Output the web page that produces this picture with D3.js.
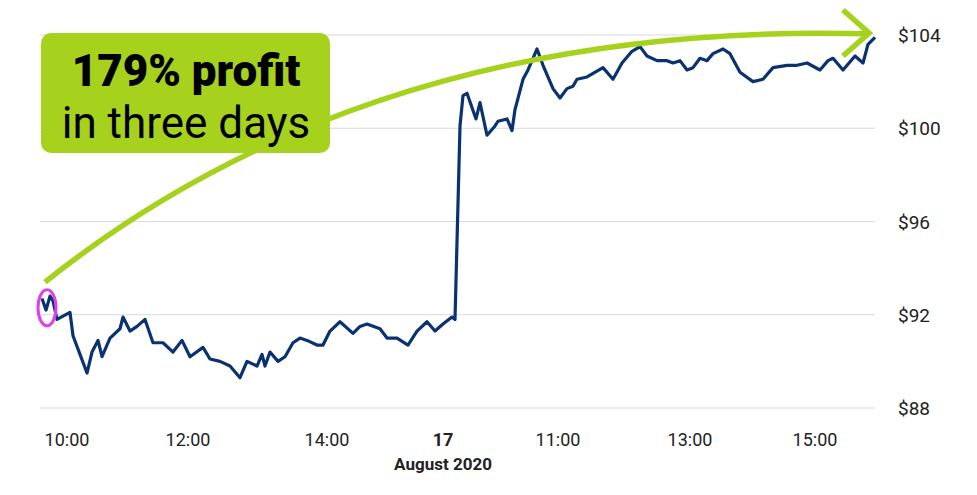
<!DOCTYPE html><html><head><meta charset="utf-8"><script src="https://cdn.jsdelivr.net/npm/d3@7"></script>
<style>body{margin:0;background:#fff}text{font-family:Roboto,"DejaVu Sans",sans-serif}</style></head><body><svg id="c" width="977" height="495"></svg>
<script>
// session position (arbitrary trading-time units) and price
const t=[0,4,8,11,15,28,31,38,45,50,56,60,68,78,81,88,95,103,111,121,131,140,148,161,168,178,188,198,205,215,220,223,228,236,243,251,258,265,275,281,288,298,311,318,325,338,345,355,366,375,385,393,401,410,413,418,421,425,434,438,445,453,456,465,470,473,481,486,491,495,501,511,518,525,531,535,545,561,571,580,590,598,605,615,625,631,638,645,651,658,665,671,681,688,698,711,721,731,745,755,765,778,786,791,801,813,821,826,833];
const price=[92.7,92.2,92.8,92.6,91.8,92.1,91.1,90.3,89.5,90.4,90.9,90.2,91.0,91.4,91.9,91.3,91.5,91.8,90.8,90.8,90.4,90.9,90.2,90.6,90.1,90.0,89.8,89.3,90.0,89.8,90.3,89.8,90.4,90.0,90.2,90.8,91.0,90.9,90.7,90.7,91.3,91.7,91.2,91.5,91.6,91.4,91.0,91.0,90.7,91.3,91.7,91.3,91.6,91.9,91.8,100.1,101.4,101.5,100.4,101.1,99.7,100.1,100.3,100.4,99.9,100.8,102.1,102.5,103.0,103.4,102.7,101.7,101.3,101.7,101.8,102.1,102.2,102.6,102.1,102.8,103.3,103.5,103.1,102.9,102.9,102.8,102.9,102.5,102.6,103.0,102.9,103.2,103.4,103.2,102.4,102.0,102.1,102.6,102.7,102.7,102.8,102.5,102.9,103.0,102.5,103.1,102.8,103.6,103.9,104.1];
const yTicks=[88,92,96,100,104];
const xTickPos=[25,146,285,401,516,648,773];
const xTickLabels=["10:00","12:00","14:00","17","11:00","13:00","15:00"];
const svg=d3.select("#c");
const x=d3.scaleLinear().domain([0,833]).range([42,875]);
const y=d3.scaleLinear().domain([88,104]).range([408,35]);
svg.selectAll(".g").data(yTicks).join("line").attr("x1",40).attr("x2",875).attr("y1",d=>y(d)).attr("y2",d=>y(d)).attr("stroke","#d9d9d9").attr("stroke-width",1);
svg.selectAll(".yl").data(yTicks).join("text").attr("x",898).attr("y",d=>y(d)+7).attr("font-size",19).attr("fill","#222").text(d=>"$"+d);
svg.selectAll(".xl").data(xTickPos).join("text").attr("x",d=>x(d)).attr("y",446).attr("text-anchor","middle").attr("font-size",18).attr("fill","#222").attr("font-weight",(d,i)=>xTickLabels[i]==="17"?"bold":"normal").text((d,i)=>xTickLabels[i]);
svg.append("text").attr("x",x(401)).attr("y",470).attr("text-anchor","middle").attr("font-size",17).attr("font-weight","bold").attr("fill","#222").text("August 2020");
const pts=t.map((d,i)=>[d,price[i]]);
svg.append("path").attr("d",d3.line().x(d=>x(d[0])).y(d=>y(d[1]))(pts)).attr("fill","none").attr("stroke","#0b3270").attr("stroke-width",3.2).attr("stroke-linejoin","round");
const green="#a6d11c";
svg.append("ellipse").attr("cx",x(5)).attr("cy",y(92.3)).attr("rx",9).attr("ry",18).attr("fill","none").attr("stroke","#e040e8").attr("stroke-width",3);
svg.append("path").attr("d",`M${x(3)},${y(93.4)} Q${x(330)},${y(104.6)} ${x(826)},${y(104.05)}`).attr("fill","none").attr("stroke",green).attr("stroke-width",5.5);
svg.append("path").attr("d",`M843,10 L869,33 L843,56`).attr("fill","none").attr("stroke",green).attr("stroke-width",5.5);
svg.append("rect").attr("x",41).attr("y",33).attr("width",289).attr("height",120).attr("rx",10).attr("fill",green);
svg.append("text").attr("x",186).attr("y",86).attr("text-anchor","middle").attr("font-size",44).attr("font-weight","900").attr("fill","#000").text("179% profit");
svg.append("text").attr("x",186).attr("y",138).attr("text-anchor","middle").attr("font-size",44).attr("fill","#000").text("in three days");
</script></body></html>
